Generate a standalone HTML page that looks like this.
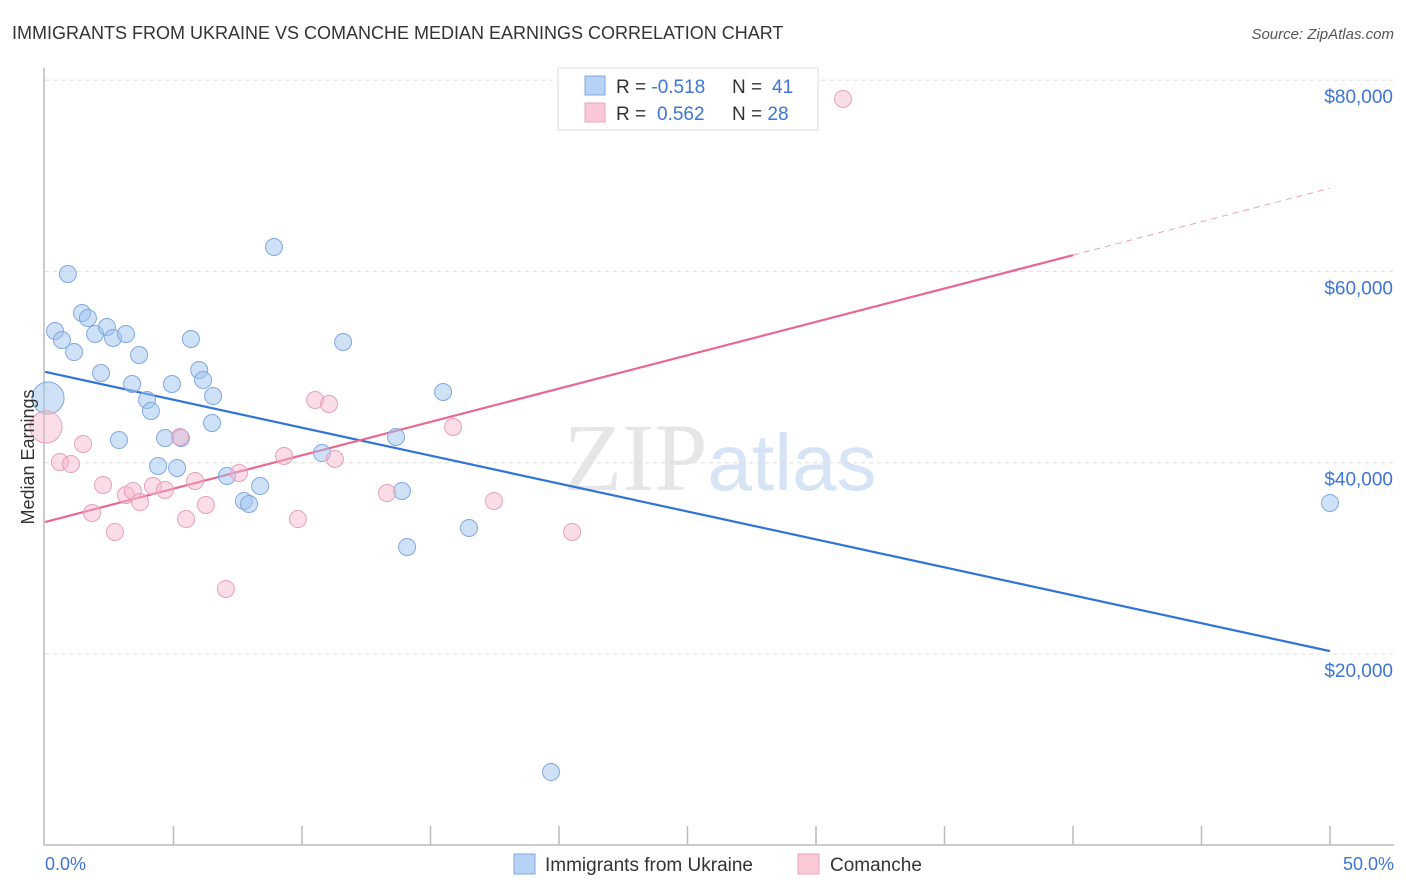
<!DOCTYPE html>
<html><head><meta charset="utf-8"><style>
body{margin:0;background:#fff;font-family:"Liberation Sans",sans-serif;}
svg{display:block}
</style></head><body>
<svg id="chart" width="1406" height="892" font-family="Liberation Sans, sans-serif">
<text x="12" y="39" font-size="18" fill="#333">IMMIGRANTS FROM UKRAINE VS COMANCHE MEDIAN EARNINGS CORRELATION CHART</text>
<text x="1394" y="39" font-size="15" fill="#555" font-style="italic" text-anchor="end">Source: ZipAtlas.com</text>
<text x="720" y="490" font-size="96" fill="#e6e6e6" text-anchor="middle" font-family="Liberation Serif, serif">ZIP<tspan fill="#d6e4f5" font-family="Liberation Sans, sans-serif" font-size="80">atlas</tspan></text>
<g id="grid"></g>
<g id="axes"></g>
<g id="trend"></g>
<g id="points"></g>
<text x="34" y="457" font-size="18" fill="#333" text-anchor="middle" transform="rotate(-90 34 457)">Median Earnings</text>
<text x="45" y="870" font-size="18" fill="#3d74d6">0.0%</text>
<text x="1394" y="870" font-size="18" fill="#3d74d6" text-anchor="end">50.0%</text>
<g>
<rect x="558" y="68" width="260" height="62" fill="#fff" stroke="#ddd"/>
<rect x="585" y="76" width="20" height="19" fill="#b8d2f5" stroke="#7fa8e0"/>
<rect x="585" y="103" width="20" height="19" fill="#fac9d8" stroke="#eca3bc"/>
<text x="616" y="93" font-size="19" fill="#333">R = <tspan fill="#3d74d6">-0.518</tspan><tspan x="732">N = </tspan><tspan fill="#3d74d6" x="772">41</tspan></text>
<text x="616" y="120" font-size="19" fill="#333">R = <tspan fill="#3d74d6" x="657">0.562</tspan><tspan x="732">N = </tspan><tspan fill="#3d74d6">28</tspan></text>
</g>
<g>
<rect x="514" y="854" width="21" height="20" fill="#b8d2f5" stroke="#7fa8e0"/>
<text x="545" y="871" font-size="19" fill="#333">Immigrants from Ukraine</text>
<rect x="798" y="854" width="21" height="20" fill="#fac9d8" stroke="#eca3bc"/>
<text x="830" y="871" font-size="19" fill="#333">Comanche</text>
</g>
</svg>
<script>
const yTicks=[20000,40000,60000,80000];
const yTickLabels=["$20,000","$40,000","$60,000","$80,000"];
const xTicks=[0,5,10,15,20,25,30,35,40,45,50];
const blueX=[0.12,0.39,0.66,0.89,1.13,1.44,1.67,1.95,2.18,2.41,2.65,2.88,3.15,3.39,3.66,3.97,4.12,4.40,4.67,4.94,5.14,5.29,5.68,6.0,6.15,6.54,6.5,7.08,7.74,7.94,8.37,8.91,10.78,11.6,13.66,13.89,14.09,15.49,16.5,19.69,50];
const blueY=[46760,53770,52830,59730,51570,55650,55130,53460,49380,54190,53040,42370,53460,48230,51260,46560,45410,39660,42580,48230,39450,42580,52930,49690,48650,46970,44150,38610,36000,35680,37560,62550,41010,52620,42690,37040,31190,47390,33170,7660,35790];
const pinkX=[0.04,0.58,1.01,1.48,1.83,2.26,2.72,3.15,3.42,3.70,4.20,4.67,5.25,5.49,5.84,6.26,7.04,7.55,9.30,9.84,10.51,11.05,11.28,13.31,15.88,17.47,20.51,31.05];
const pinkY=[43730,40070,39860,41960,34740,37670,32760,36620,37040,35890,37560,37150,42690,34110,38090,35580,26800,38920,40700,34110,46560,46140,40390,36830,43730,36000,32760,78030];
const blueTrend=[[0,49500],[50,20300]];
const pinkTrendSolid=[[0,33800],[40,61700]];
const pinkTrendDash=[[40,61700],[50,68700]];
const X=p=>45+p/50*1285;
const Y=v=>654-(v-20000)*191.3/20000;
const NS="http://www.w3.org/2000/svg";
function mk(parent,tag,attrs){const e=document.createElementNS(NS,tag);for(const k in attrs)e.setAttribute(k,attrs[k]);document.getElementById(parent).appendChild(e);return e;}
yTicks.forEach((v,i)=>{
 const l=mk('grid','line',{x1:45,x2:1394,y1:Y(v),y2:Y(v),stroke:'#ddd','stroke-dasharray':'4,4'});
 
 
 const t=mk('grid','text',{x:1393,y:Y(v)+23,'font-size':19,fill:'#3d74d6','text-anchor':'end'});
 t.textContent=yTickLabels[i];
 
 
});
const ax=mk('axes','path',{d:'M44 68 V845 H1394',fill:'none',stroke:'#bbb','stroke-width':1.5});


xTicks.slice(1).forEach(p=>{
 const t=mk('axes','line',{x1:X(p),x2:X(p),y1:826,y2:845,stroke:'#bbb','stroke-width':1.5});
 
 
});
function line(d,color,dash,name){
 const l=mk('trend','line',{x1:X(d[0][0]),y1:Y(d[0][1]),x2:X(d[1][0]),y2:Y(d[1][1]),stroke:color,'stroke-width':dash?1:2.2});
 if(dash)l.setAttribute('stroke-dasharray','6,5');
 
 
}
line(blueTrend,'#2f74d6',false,'ukraine-trendline');
line(pinkTrendSolid,'#e8688f',false,'comanche-trendline');
line(pinkTrendDash,'#e8a0b8',true,'comanche-trendline-extension');
function pts(xs,ys,fill,stroke,name,big){
 xs.forEach((x,i)=>{
  const c=mk('points','circle',{cx:X(x),cy:Y(ys[i]),r:big.includes(i)?16:8.5,fill:fill,stroke:stroke,'stroke-width':1});
  
  
 });
}
pts(blueX,blueY,'rgba(160,196,240,0.5)','#7fa8e0','ukraine-point',[0]);
pts(pinkX,pinkY,'rgba(247,180,202,0.45)','#e8a0b8','comanche-point',[0]);
</script>
</body></html>
